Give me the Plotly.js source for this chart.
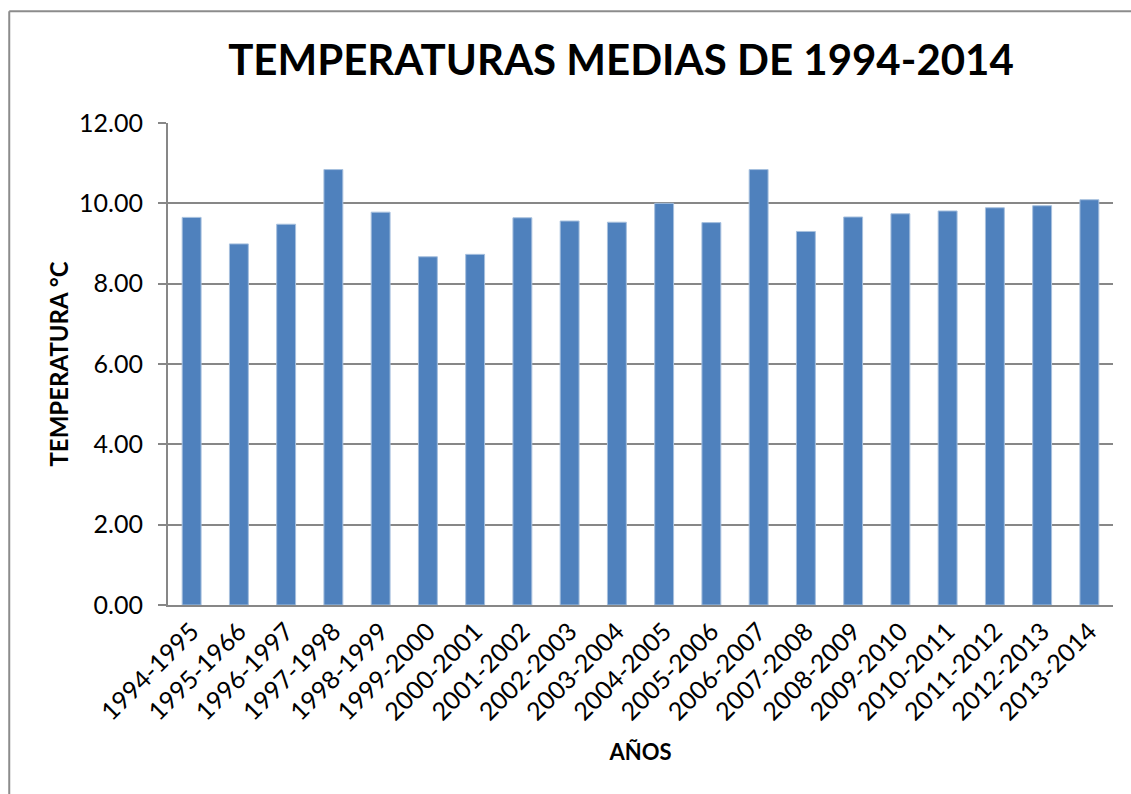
<!DOCTYPE html>
<html>
<head>
<meta charset="utf-8">
<script src="https://cdn.plot.ly/plotly-3.0.1.min.js"></script>
<style>
  html, body { margin: 0; padding: 0; background: #fff; }
  #chart { width: 1131px; height: 794px; }
</style>
</head>
<body>
<div id="chart"></div>
<script>
// Periodos y temperaturas medias (°C)
const periodos = [
  '1994-1995', '1995-1966', '1996-1997', '1997-1998', '1998-1999',
  '1999-2000', '2000-2001', '2001-2002', '2002-2003', '2003-2004',
  '2004-2005', '2005-2006', '2006-2007', '2007-2008', '2008-2009',
  '2009-2010', '2010-2011', '2011-2012', '2012-2013', '2013-2014'
];
const temperaturas = [
  9.65, 8.99, 9.48, 10.84, 9.78,
  8.67, 8.73, 9.64, 9.56, 9.53,
  10.00, 9.52, 10.84, 9.30, 9.66,
  9.74, 9.81, 9.89, 9.94, 10.09
];

const data = [
  {
    type: 'bar',
    x: periodos,
    y: temperaturas,
    marker: {
      color: '#4f81bd',
      line: { color: '#a7c0de', width: 1 }
    },
    hoverinfo: 'x+y'
  }
];

// marco del gráfico: solo se ven los bordes izquierdo y superior
const marco = { color: '#8c8c8c', width: 2 };
const layout = {
  width: 1131,
  height: 794,
  paper_bgcolor: '#ffffff',
  plot_bgcolor: '#ffffff',
  font: { family: 'Lato, sans-serif', color: '#000000' },
  showlegend: false,
  bargap: 0.6,
  title: {
    text: '<b>TEMPERATURAS MEDIAS DE 1994-2014</b>',
    font: { size: 42, family: 'Lato, sans-serif', color: '#000000' },
    x: 621 / 1131,
    xanchor: 'center',
    y: 1 - 60 / 794,
    yanchor: 'middle'
  },
  xaxis: {
    title: {
      text: '<b>AÑOS</b>',
      font: { size: 22 },
      standoff: 20
    },
    tickangle: -45,
    tickfont: { size: 25 },
    showline: true,
    linecolor: '#878787',
    linewidth: 2,
    ticks: '',
    showgrid: false
  },
  yaxis: {
    title: {
      text: '<b>TEMPERATURA °C</b>',
      font: { size: 24 },
      standoff: 4
    },
    range: [0, 12],
    dtick: 2,
    tickformat: '.2f',
    tickfont: { size: 25 },
    ticks: 'outside',
    ticklen: 8,
    tickwidth: 2,
    tickcolor: '#878787',
    ticklabelstandoff: 10,
    showline: true,
    linecolor: '#878787',
    linewidth: 2,
    showgrid: true,
    gridcolor: '#878787',
    gridwidth: 2,
    zeroline: false
  },
  shapes: [
    { type: 'line', xref: 'paper', yref: 'paper', x0: -0.168, x1: -0.168, y0: 1.232, y1: -0.5, line: marco },
    { type: 'line', xref: 'paper', yref: 'paper', x0: -0.168, x1: 1.2, y0: 1.232, y1: 1.232, line: marco }
  ],
  margin: { t: 123, b: 189, l: 168, r: 18 }
};

Plotly.newPlot('chart', data, layout, { displayModeBar: false, staticPlot: true });
</script>
</body>
</html>
